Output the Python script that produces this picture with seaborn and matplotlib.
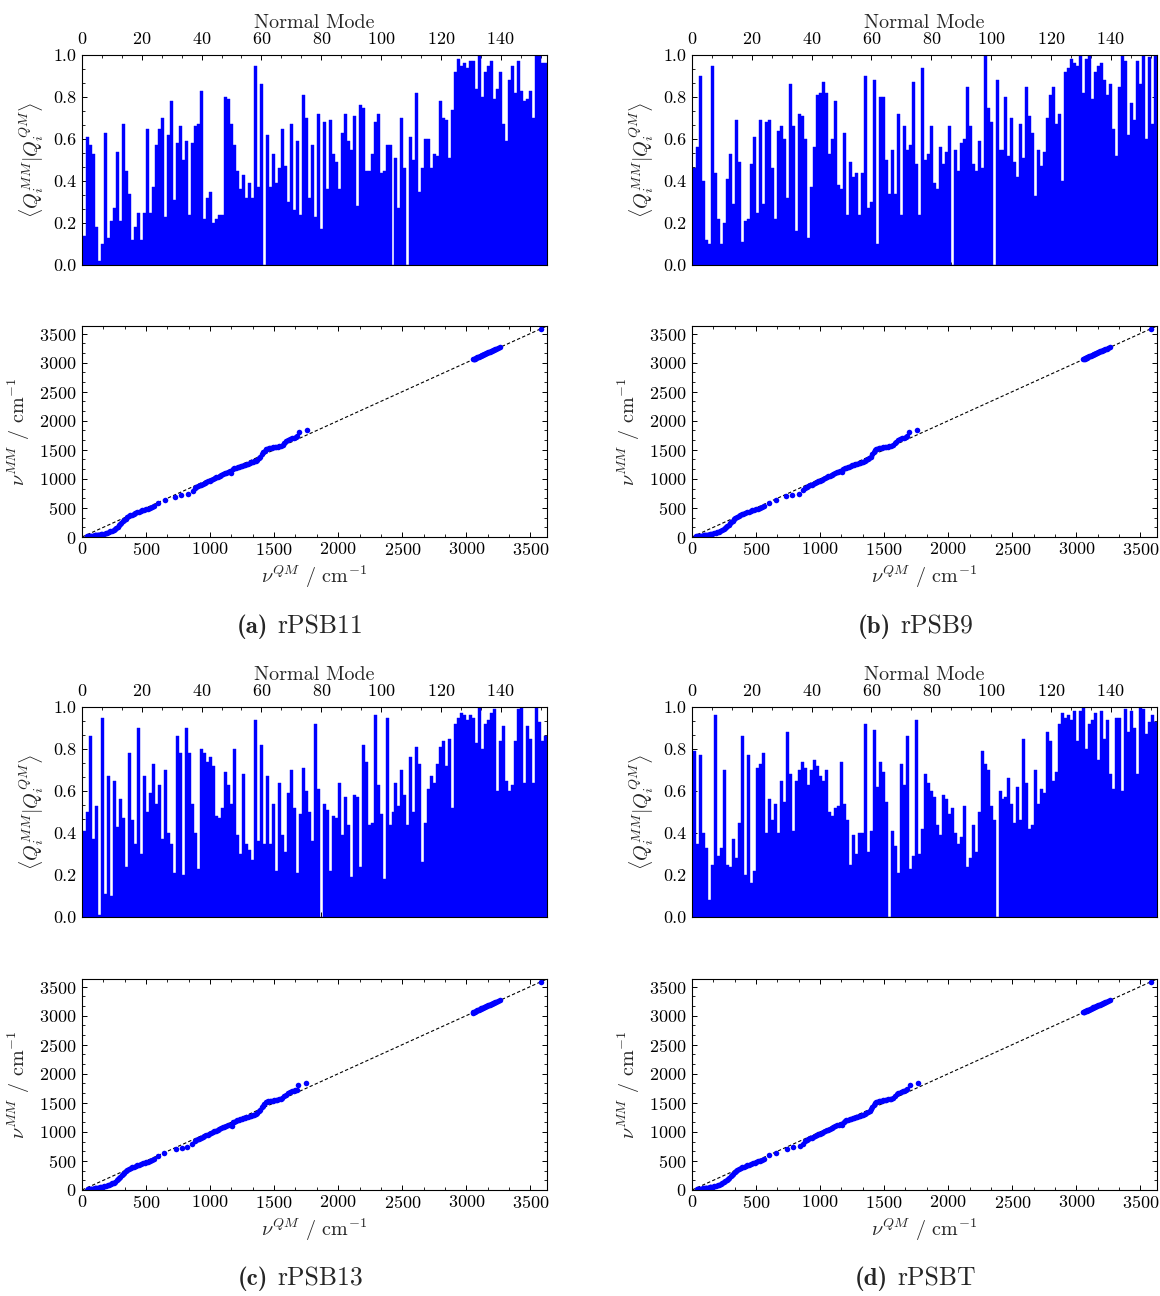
import numpy as np
import pandas as pd
import matplotlib
matplotlib.use("Agg")
import matplotlib.pyplot as plt
import seaborn as sns
from matplotlib.ticker import MultipleLocator, AutoMinorLocator, FormatStrFormatter

# ---------------- data ----------------
panel_titles = ["rPSB11", "rPSB9", "rPSB13", "rPSBT"]
panel_letters = ["(a)", "(b)", "(c)", "(d)"]

overlap_a = [
    0.14, 0.61, 0.57, 0.53, 0.18, 0.02, 0.10, 0.63, 0.13, 0.21,
    0.27, 0.54, 0.21, 0.67, 0.45, 0.34, 0.12, 0.18, 0.25, 0.12,
    0.25, 0.65, 0.25, 0.37, 0.57, 0.65, 0.70, 0.23, 0.62, 0.78,
    0.31, 0.58, 0.66, 0.50, 0.59, 0.24, 0.58, 0.66, 0.67, 0.83,
    0.22, 0.32, 0.35, 0.20, 0.22, 0.24, 0.24, 0.80, 0.79, 0.67,
    0.57, 0.45, 0.36, 0.43, 0.32, 0.39, 0.32, 0.95, 0.37, 0.86,
    0.00, 0.62, 0.37, 0.53, 0.39, 0.46, 0.65, 0.47, 0.30, 0.67,
    0.26, 0.59, 0.24, 0.81, 0.70, 0.32,
    0.57, 0.23, 0.72, 0.17, 0.68, 0.36, 0.69, 0.53, 0.49, 0.36,
    0.63, 0.72, 0.59, 0.55, 0.71, 0.28, 0.76, 0.75, 0.45, 0.45,
    0.53, 0.68, 0.72, 0.44, 0.45, 0.57, 0.57, 0.00, 0.51, 0.27,
    0.70, 0.46, 0.00, 0.61, 0.50, 0.82, 0.35, 0.46, 0.60, 0.60,
    0.46, 0.53, 0.52, 0.78, 0.70, 0.69, 0.51, 0.74, 0.92, 0.98,
    0.95, 0.96, 0.94, 0.97, 0.97, 0.84, 1.00, 0.80, 0.92, 0.95,
    0.97, 0.79, 0.84, 0.92, 0.67, 0.59, 0.88, 0.95, 0.82, 0.97,
    0.83, 0.78, 0.79, 0.83, 0.70, 1.00, 1.00, 0.96, 0.96,
]
overlap_b = [
    0.46, 0.56, 0.90, 0.40, 0.12, 0.10, 0.95, 0.44, 0.22, 0.10,
    0.20, 0.41, 0.53, 0.29, 0.69, 0.49, 0.11, 0.21, 0.22, 0.48,
    0.61, 0.25, 0.69, 0.29, 0.68, 0.69, 0.46, 0.22, 0.64, 0.66,
    0.60, 0.32, 0.86, 0.66, 0.16, 0.72, 0.71, 0.60, 0.13, 0.37,
    0.56, 0.81, 0.82, 0.87, 0.82, 0.53, 0.60, 0.78, 0.38, 0.36,
    0.63, 0.24, 0.49, 0.42, 0.44, 0.24, 0.44, 0.90, 0.27, 0.30,
    0.88, 0.10, 0.80, 0.80, 0.50, 0.34, 0.55, 0.34, 0.72, 0.24,
    0.66, 0.55, 0.57, 0.87, 0.48, 0.24,
    0.94, 0.50, 0.53, 0.66, 0.39, 0.36, 0.56, 0.48, 0.54, 0.66,
    0.00, 0.55, 0.45, 0.58, 0.60, 0.85, 0.66, 0.48, 0.45, 0.59,
    0.46, 1.00, 0.75, 0.68, 0.00, 0.88, 0.55, 0.55, 0.80, 0.52,
    0.70, 0.49, 0.42, 0.67, 0.51, 0.85, 0.71, 0.63, 0.33, 0.55,
    0.47, 0.54, 0.70, 0.81, 0.85, 0.67, 0.72, 0.40, 0.92, 0.94,
    0.98, 0.96, 0.95, 1.00, 0.82, 0.98, 1.00, 0.79, 0.92, 0.95,
    0.96, 0.88, 0.81, 0.86, 0.65, 0.52, 0.85, 1.00, 0.97, 0.62,
    0.77, 0.69, 0.97, 0.86, 1.00, 0.60, 0.99, 0.67, 1.00,
]
overlap_c = [
    0.41, 0.50, 0.86, 0.37, 0.53, 0.01, 0.95, 0.11, 0.67, 0.10,
    0.65, 0.43, 0.56, 0.47, 0.24, 0.78, 0.46, 0.35, 0.90, 0.30,
    0.67, 0.50, 0.59, 0.73, 0.54, 0.63, 0.37, 0.70, 0.40, 0.35,
    0.21, 0.86, 0.78, 0.20, 0.90, 0.78, 0.54, 0.40, 0.23, 0.80,
    0.78, 0.74, 0.76, 0.72, 0.48, 0.47, 0.52, 0.69, 0.63, 0.54,
    0.80, 0.39, 0.30, 0.68, 0.35, 0.32, 0.27, 0.94, 0.36, 0.82,
    0.35, 0.67, 0.35, 0.54, 0.22, 0.64, 0.39, 0.31, 0.59, 0.70,
    0.52, 0.21, 0.49, 0.71, 0.60, 0.50,
    0.36, 0.92, 0.61, 0.00, 0.54, 0.51, 0.22, 0.48, 0.47, 0.64,
    0.39, 0.57, 0.44, 0.19, 0.58, 0.57, 0.24, 0.82, 0.74, 0.44,
    0.45, 0.96, 0.63, 0.49, 0.18, 0.95, 0.44, 0.50, 0.64, 0.53,
    0.70, 0.58, 0.44, 0.76, 0.50, 0.81, 0.73, 0.26, 0.45, 0.61,
    0.67, 0.64, 0.73, 0.81, 0.84, 0.72, 0.85, 0.52, 0.92, 0.95,
    0.97, 0.96, 0.94, 0.96, 0.95, 0.83, 1.00, 0.80, 0.92, 0.94,
    0.97, 0.99, 0.60, 0.84, 0.91, 0.65, 0.60, 0.63, 0.84, 0.99,
    1.00, 0.64, 0.91, 0.85, 0.64, 1.00, 0.93, 0.84, 0.86,
]
overlap_d = [
    0.79, 0.35, 0.77, 0.40, 0.33, 0.08, 0.25, 0.96, 0.29, 0.33,
    0.70, 0.25, 0.24, 0.37, 0.28, 0.45, 0.86, 0.20, 0.77, 0.16,
    0.22, 0.71, 0.73, 0.78, 0.40, 0.56, 0.46, 0.54, 0.40, 0.65,
    0.55, 0.88, 0.68, 0.41, 0.65, 0.70, 0.74, 0.71, 0.63, 0.70,
    0.75, 0.72, 0.67, 0.65, 0.70, 0.50, 0.48, 0.52, 0.53, 0.74,
    0.54, 0.46, 0.25, 0.39, 0.30, 0.40, 0.40, 0.92, 0.31, 0.41,
    0.89, 0.62, 0.74, 0.69, 0.55, 0.00, 0.41, 0.34, 0.21, 0.73,
    0.63, 0.86, 0.23, 0.29, 0.94,
    0.30, 0.42, 0.68, 0.64, 0.60, 0.57, 0.44, 0.39, 0.58, 0.56,
    0.49, 0.52, 0.40, 0.35, 0.38, 0.53, 0.24, 0.28, 0.44, 0.31,
    0.50, 0.79, 0.73, 0.70, 0.53, 0.46, 0.00, 0.60, 0.56, 0.57,
    0.66, 0.54, 0.45, 0.62, 0.46, 0.85, 0.64, 0.42, 0.44, 0.70,
    0.54, 0.61, 0.59, 0.88, 0.84, 0.65, 0.69, 0.92, 0.97, 0.95,
    0.96, 0.94, 0.98, 0.84, 0.98, 1.00, 0.80, 0.92, 0.94, 0.97,
    0.75, 0.98, 0.85, 0.94, 0.68, 0.61, 0.95, 0.95, 0.60, 0.99,
    0.88, 0.98, 0.90, 0.68, 1.00, 0.99, 0.87, 0.93, 0.96, 0.93,
]

# QM vs MM harmonic frequencies (cm^-1)
nu_qm_a = [38, 42, 48, 54, 60, 66, 72, 79, 85, 92, 98, 104, 110, 116, 122, 128, 135, 141, 148, 160,
           172, 185, 198, 210, 222, 235, 248, 258, 268, 278, 288, 298, 308, 318, 328, 340, 352, 365, 378, 390,
           403, 416, 430, 444, 458, 472, 486, 500, 515, 530, 545, 560,
           594, 646, 724, 776, 828, 865, 885,
           893, 906, 919, 932, 945, 958, 971, 984, 997, 1010, 1023, 1036, 1049, 1062, 1075, 1088, 1101, 1114,
           1128, 1142, 1158, 1167,
           1180, 1190, 1202, 1214, 1226, 1238, 1250, 1262, 1274, 1286, 1298, 1310, 1322, 1334, 1346, 1358,
           1370, 1384, 1392,
           1406, 1416, 1426, 1436, 1446, 1456, 1468, 1480,
           1492, 1504, 1516, 1528, 1540, 1552, 1566, 1580, 1595, 1610, 1626, 1642,
           1655, 1668, 1680, 1692, 1758,
           3052, 3058, 3063, 3068, 3073, 3079, 3085, 3091, 3098, 3105, 3112, 3119, 3126, 3133, 3140, 3147,
           3155, 3162, 3170, 3177, 3185, 3192, 3200, 3208, 3216, 3224, 3234, 3246, 3262, 3583]
nu_mm_a = [8, 10, 12, 13, 15, 16, 18, 20, 22, 24, 26, 28, 30, 32, 35, 37, 40, 43, 46, 52,
           58, 66, 74, 84, 95, 108, 122, 140, 160, 180, 200, 222, 245, 268, 290, 315, 338, 356, 372, 386,
           398, 410, 422, 434, 446, 456, 466, 474, 486, 500, 515, 532,
           591, 636, 695, 722, 740, 790, 838,
           858, 872, 886, 900, 913, 926, 940, 955, 968, 982, 996, 1010, 1024, 1038, 1052, 1066, 1080, 1094,
           1108, 1120, 1128, 1100,
           1168, 1180, 1190, 1200, 1208, 1218, 1226, 1236, 1245, 1254, 1262, 1272, 1282, 1290, 1300, 1312,
           1330, 1355, 1380,
           1425, 1455, 1488, 1508, 1520, 1528, 1533, 1537,
           1540, 1545, 1550, 1555, 1560, 1566, 1580, 1620, 1645, 1665, 1685, 1700,
           1705, 1718, 1730, 1800, 1833,
           3055, 3062, 3066, 3070, 3078, 3084, 3090, 3097, 3104, 3110, 3118, 3124, 3131, 3139, 3146, 3152,
           3160, 3167, 3176, 3183, 3190, 3198, 3206, 3212, 3222, 3229, 3238, 3250, 3268, 3574]

nu_qm_b = [35, 41, 47, 53, 59, 65, 71, 78, 84, 91, 97, 103, 109, 115, 121, 127, 134, 140, 147, 159,
           171, 184, 197, 209, 221, 234, 247, 257, 267, 277, 287, 297, 307, 317, 327, 339, 351, 364, 377, 389,
           402, 415, 429, 443, 457, 471, 485, 499, 514, 529, 544, 559,
           598, 652, 730, 782, 835, 870, 884,
           894, 907, 920, 933, 946, 959, 972, 985, 998, 1011, 1024, 1037, 1050, 1063, 1076, 1089, 1102, 1115,
           1129, 1143, 1159, 1170,
           1182, 1192, 1204, 1216, 1228, 1240, 1252, 1264, 1276, 1288, 1300, 1312, 1324, 1336, 1348, 1360,
           1372, 1385, 1394,
           1407, 1417, 1427, 1437, 1447, 1457, 1469, 1481,
           1493, 1505, 1517, 1529, 1541, 1553, 1567, 1581, 1596, 1611, 1627, 1643,
           1656, 1669, 1681, 1694, 1760,
           3054, 3059, 3065, 3070, 3075, 3081, 3087, 3093, 3100, 3107, 3114, 3121, 3128, 3135, 3142, 3149,
           3157, 3164, 3172, 3179, 3187, 3194, 3202, 3210, 3218, 3226, 3236, 3248, 3264, 3585]
nu_mm_b = [9, 11, 13, 15, 17, 19, 21, 23, 25, 27, 29, 31, 33, 35, 38, 40, 43, 46, 50, 56,
           63, 71, 80, 90, 102, 116, 130, 148, 168, 190, 212, 236, 258, 280, 302, 325, 345, 362, 376, 390,
           401, 412, 424, 436, 448, 458, 468, 478, 490, 505, 520, 538,
           590, 640, 700, 730, 748, 800, 842,
           862, 876, 890, 903, 916, 930, 944, 958, 972, 986, 1000, 1014, 1028, 1041, 1055, 1069, 1083, 1097,
           1110, 1124, 1134, 1112,
           1172, 1184, 1194, 1203, 1212, 1222, 1231, 1240, 1249, 1258, 1267, 1277, 1287, 1296, 1306, 1318,
           1334, 1358, 1384,
           1428, 1458, 1490, 1510, 1521, 1529, 1534, 1538,
           1541, 1546, 1551, 1556, 1562, 1568, 1582, 1618, 1642, 1662, 1682, 1698,
           1708, 1720, 1732, 1810, 1845,
           3058, 3063, 3068, 3073, 3079, 3086, 3092, 3099, 3106, 3112, 3120, 3126, 3133, 3141, 3148, 3154,
           3162, 3169, 3178, 3185, 3192, 3200, 3208, 3214, 3224, 3231, 3240, 3252, 3270, 3576]

nu_qm_c = [36, 43, 49, 55, 61, 67, 74, 80, 86, 93, 99, 105, 112, 118, 124, 130, 136, 143, 150, 162,
           174, 187, 200, 212, 224, 237, 250, 260, 270, 280, 290, 300, 310, 320, 331, 342, 354, 367, 380, 392,
           405, 418, 432, 446, 460, 474, 488, 502, 517, 532, 547, 562,
           590, 640, 735, 780, 820, 860, 882,
           891, 904, 917, 930, 943, 956, 969, 982, 995, 1008, 1021, 1034, 1047, 1060, 1073, 1086, 1099, 1112,
           1126, 1140, 1156, 1170,
           1178, 1188, 1200, 1212, 1224, 1236, 1248, 1260, 1272, 1284, 1296, 1308, 1320, 1332, 1344, 1356,
           1368, 1382, 1390,
           1404, 1414, 1424, 1434, 1444, 1454, 1466, 1478,
           1490, 1502, 1514, 1526, 1538, 1550, 1564, 1578, 1593, 1608, 1624, 1640,
           1652, 1665, 1677, 1690, 1752,
           3050, 3056, 3062, 3067, 3072, 3078, 3084, 3090, 3097, 3104, 3111, 3118, 3125, 3132, 3139, 3146,
           3154, 3161, 3169, 3176, 3184, 3191, 3199, 3207, 3215, 3223, 3233, 3245, 3260, 3581]
nu_mm_c = [7, 9, 11, 13, 15, 17, 19, 21, 23, 25, 28, 30, 32, 34, 37, 39, 42, 45, 49, 55,
           62, 70, 79, 89, 100, 113, 127, 145, 165, 186, 207, 230, 252, 275, 298, 322, 343, 360, 375, 389,
           400, 412, 424, 436, 448, 458, 468, 477, 489, 503, 518, 535,
           585, 632, 700, 728, 745, 795, 840,
           856, 870, 884, 898, 911, 924, 938, 953, 966, 980, 994, 1008, 1022, 1036, 1050, 1064, 1078, 1092,
           1106, 1118, 1126, 1104,
           1166, 1178, 1188, 1197, 1206, 1216, 1225, 1234, 1243, 1252, 1261, 1270, 1280, 1288, 1298, 1310,
           1328, 1352, 1378,
           1422, 1452, 1485, 1506, 1518, 1526, 1531, 1535,
           1538, 1543, 1548, 1553, 1558, 1564, 1578, 1616, 1640, 1662, 1682, 1698,
           1703, 1716, 1728, 1808, 1842,
           3053, 3060, 3065, 3069, 3076, 3083, 3089, 3096, 3103, 3109, 3117, 3123, 3130, 3138, 3145, 3151,
           3159, 3166, 3175, 3182, 3189, 3197, 3205, 3211, 3221, 3228, 3237, 3249, 3266, 3572]

nu_qm_d = [37, 44, 50, 56, 62, 68, 75, 81, 87, 94, 100, 106, 113, 119, 125, 131, 138, 144, 151, 163,
           175, 188, 201, 213, 225, 238, 251, 261, 271, 281, 291, 301, 311, 321, 332, 343, 355, 368, 381, 393,
           406, 419, 433, 447, 461, 475, 489, 503, 518, 533, 548, 563,
           600, 655, 740, 785, 840, 868, 886,
           895, 908, 921, 934, 947, 960, 973, 986, 999, 1012, 1025, 1038, 1051, 1064, 1077, 1090, 1103, 1116,
           1130, 1144, 1160, 1172,
           1184, 1194, 1206, 1218, 1230, 1242, 1254, 1266, 1278, 1290, 1302, 1314, 1326, 1338, 1350, 1362,
           1374, 1386, 1395,
           1408, 1418, 1428, 1438, 1448, 1458, 1470, 1482,
           1494, 1506, 1518, 1530, 1542, 1554, 1568, 1582, 1597, 1612, 1628, 1644,
           1657, 1670, 1682, 1698, 1762,
           3053, 3058, 3064, 3069, 3074, 3080, 3086, 3092, 3099, 3106, 3113, 3120, 3127, 3134, 3141, 3148,
           3156, 3163, 3171, 3178, 3186, 3193, 3201, 3209, 3217, 3225, 3235, 3247, 3263, 3584]
nu_mm_d = [10, 12, 14, 16, 18, 20, 22, 24, 26, 28, 30, 32, 34, 36, 39, 41, 44, 47, 51, 57,
           64, 72, 81, 92, 104, 117, 131, 150, 170, 192, 214, 237, 259, 282, 304, 327, 347, 364, 378, 391,
           402, 414, 426, 438, 450, 460, 470, 480, 492, 506, 521, 538,
           594, 643, 704, 732, 752, 798, 843,
           861, 875, 889, 902, 915, 929, 943, 957, 971, 985, 999, 1012, 1026, 1040, 1054, 1068, 1082, 1096,
           1110, 1122, 1132, 1115,
           1174, 1186, 1196, 1205, 1214, 1224, 1233, 1242, 1251, 1260, 1269, 1279, 1289, 1298, 1308, 1320,
           1338, 1362, 1386,
           1430, 1460, 1492, 1512, 1522, 1530, 1535, 1539,
           1542, 1547, 1552, 1557, 1563, 1569, 1584, 1622, 1646, 1666, 1686, 1702,
           1710, 1722, 1734, 1812, 1846,
           3057, 3062, 3067, 3072, 3078, 3085, 3091, 3098, 3105, 3111, 3119, 3125, 3132, 3140, 3147, 3153,
           3161, 3168, 3177, 3184, 3191, 3199, 3207, 3213, 3223, 3230, 3239, 3251, 3269, 3575]

overlaps = [overlap_a, overlap_b, overlap_c, overlap_d]
nu_qm = [nu_qm_a, nu_qm_b, nu_qm_c, nu_qm_d]
nu_mm = [nu_mm_a, nu_mm_b, nu_mm_c, nu_mm_d]

# ---------------- style ----------------
sns.set_style("ticks")
plt.rcParams.update({
    "font.family": ["serif"],
    "font.serif": ["cmr10", "DejaVu Serif"],
    "mathtext.fontset": "cm",
    "axes.unicode_minus": False,
    "axes.formatter.use_mathtext": True,
    "axes.edgecolor": "black",
    "axes.linewidth": 0.8,
    "xtick.direction": "in",
    "ytick.direction": "in",
    "xtick.color": "black",
    "ytick.color": "black",
    "xtick.major.size": 3.5,
    "ytick.major.size": 3.5,
    "xtick.minor.size": 2.0,
    "ytick.minor.size": 2.0,
    "xtick.major.width": 0.7,
    "ytick.major.width": 0.7,
    "xtick.minor.width": 0.6,
    "ytick.minor.width": 0.6,
    "xtick.labelsize": 13,
    "ytick.labelsize": 13,
    "xtick.major.pad": 3,
    "ytick.major.pad": 4,
})

BLUE = "#0000ff"
W, H = 1160, 1296
fig = plt.figure(figsize=(W / 100, H / 100), dpi=100)


def rect(x0, y0, x1, y1):
    return [x0 / W, 1 - y1 / H, (x1 - x0) / W, (y1 - y0) / H]


cols = [(82, 547), (692, 1157)]
rows = [((55, 265), (326, 537)), ((707, 917), (979, 1190))]
# split point (pixels) between bold letter and panel name, caption centre height
caption_split = [(272, 627), (895, 627), (272, 1279), (892, 1279)]


def draw_overlap(ax, vals):
    df = pd.DataFrame({"mode": np.arange(1, len(vals) + 1), "overlap": vals})
    sns.barplot(data=df, x="mode", y="overlap", native_scale=True, width=1.0,
                color=BLUE, saturation=1, edgecolor=BLUE, linewidth=0.3,
                errorbar=None, ax=ax)
    ax.set_xlim(0, 155.5)
    ax.set_ylim(0, 1)
    ax.xaxis.set_major_locator(MultipleLocator(20))
    ax.xaxis.set_minor_locator(AutoMinorLocator(3))
    ax.yaxis.set_major_locator(MultipleLocator(0.2))
    ax.yaxis.set_minor_locator(AutoMinorLocator(3))
    ax.yaxis.set_major_formatter(FormatStrFormatter("%.1f"))
    ax.tick_params(axis="x", which="both", top=True, bottom=True,
                   labeltop=True, labelbottom=False)
    ax.tick_params(axis="x", which="major", pad=6)
    ax.tick_params(axis="y", which="both", left=True, right=True)
    ax.xaxis.set_label_position("top")
    ax.set_xlabel("Normal Mode", fontsize=14.5, labelpad=2)
    ax.set_ylabel(r"$\langle Q_i^{MM}|Q_i^{QM}\rangle$", fontsize=14.5, labelpad=5)
    for s in ax.spines.values():
        s.set_visible(True)


def draw_freq(ax, qm, mm):
    ax.axline((0, 0), slope=1, color="black", lw=0.8, ls=(0, (3, 2)), zorder=1)
    sns.scatterplot(x=qm, y=mm, color=BLUE, s=16, linewidth=0, ax=ax,
                    legend=False, zorder=2)
    ax.set_xlim(0, 3630)
    ax.set_ylim(0, 3630)
    for axis in (ax.xaxis, ax.yaxis):
        axis.set_major_locator(MultipleLocator(500))
        axis.set_minor_locator(AutoMinorLocator(3))
    ax.tick_params(axis="both", which="both", top=True, bottom=True, left=True, right=True)
    ax.set_xlabel(r"$\nu^{QM}$ / cm$^{-1}$", fontsize=14.5, labelpad=4)
    ax.set_ylabel(r"$\nu^{MM}$ / cm$^{-1}$", fontsize=14.5, labelpad=5)
    for s in ax.spines.values():
        s.set_visible(True)


for i in range(4):
    r, c = divmod(i, 2)
    (bx0, bx1) = cols[c]
    (by, sy) = rows[r]
    ax_bar = fig.add_axes(rect(bx0, by[0], bx1, by[1]))
    ax_sc = fig.add_axes(rect(bx0, sy[0], bx1, sy[1]))
    draw_overlap(ax_bar, overlaps[i])
    draw_freq(ax_sc, nu_qm[i], nu_mm[i])
    sx, sy_px = caption_split[i]
    fig.text((sx - 4) / W, 1 - sy_px / H, panel_letters[i], ha="right", va="center",
             fontsize=18, family=["cmb10", "DejaVu Serif"], fontweight="bold")
    fig.text((sx + 5) / W, 1 - sy_px / H, panel_titles[i], ha="left", va="center",
             fontsize=18.5)

fig.savefig("out.png", dpi=100)
